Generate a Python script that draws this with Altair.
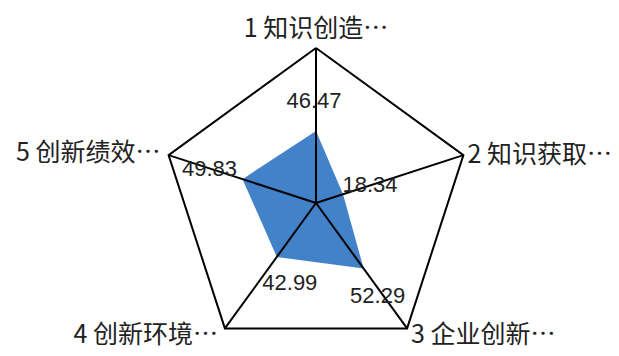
import altair as alt
import pandas as pd

# ---- data ----
categories = ["1 知识创造…", "2 知识获取…", "3 企业创新…", "4 创新环境…", "5 创新绩效…"]
values = [46.47, 18.34, 52.29, 42.99, 49.83]
value_labels = ["46.47", "18.34", "52.29", "42.99", "49.83"]
max_value = 100

n = len(categories)
base = pd.DataFrame({"idx": list(range(n)), "cat": categories,
                     "value": values, "label": value_labels})
closed = pd.concat([base, base.iloc[[0]]], ignore_index=True)
closed["ord"] = list(range(len(closed)))

# ---- layout ----
W, H = 603, 340
CX, CY = 308, 195
R = 155
xs = alt.Scale(domain=[-CX / R, (W - CX) / R], nice=False, zero=False)
ys = alt.Scale(domain=[-(H - CY) / R, CY / R], nice=False, zero=False)
BLUE = "#4282c8"
NUM_FONT = "Liberation Sans"
CJK_FONT = "Noto Sans CJK SC"


def polar(chart, rexpr):
    return (chart
            .transform_calculate(ang=f"PI/2 - datum.idx*2*PI/{n}")
            .transform_calculate(rr=rexpr)
            .transform_calculate(px="datum.rr*cos(datum.ang)",
                                 py="datum.rr*sin(datum.ang)", zero="0"))


X = alt.X("px:Q", scale=xs, axis=None)
Y = alt.Y("py:Q", scale=ys, axis=None)

poly = polar(alt.Chart(closed), f"datum.value/{max_value}").mark_line(
    filled=True, fill=BLUE, strokeOpacity=0
).encode(x=X, y=Y, order=alt.Order("ord:Q"))

outline = polar(alt.Chart(closed), "1").mark_line(
    color="black", strokeWidth=2
).encode(x=X, y=Y, order=alt.Order("ord:Q"))

spokes = polar(alt.Chart(base), "1").mark_rule(
    color="black", strokeWidth=2
).encode(x=alt.X("zero:Q", scale=xs, axis=None), x2="px:Q",
         y=alt.Y("zero:Q", scale=ys, axis=None), y2="py:Q")

value_offsets = [(-2, -30), (27, -9), (14, 27), (13, 26), (-33, -10)]
vtexts = []
for i, (dx, dy) in enumerate(value_offsets):
    vtexts.append(
        polar(alt.Chart(base), f"datum.value/{max_value}")
        .transform_filter(f"datum.idx == {i}")
        .mark_text(font=NUM_FONT, fontSize=22, color="#222222", dx=dx, dy=dy,
                   align="center", baseline="middle")
        .encode(x=X, y=Y, text="label:N")
    )

cat_style = [("center", 0, -19), ("left", 4, 0), ("left", 4, 7),
             ("right", -7, 7), ("right", -8, -2)]
ctexts = []
for i, (al, dx, dy) in enumerate(cat_style):
    ctexts.append(
        polar(alt.Chart(base), "1")
        .transform_filter(f"datum.idx == {i}")
        .mark_text(font=CJK_FONT, fontSize=25, color="#222222", dx=dx, dy=dy,
                   align=al, baseline="middle")
        .encode(x=X, y=Y, text="cat:N")
    )

chart = alt.layer(poly, outline, spokes, *vtexts, *ctexts).properties(
    width=W, height=H, padding=0, autosize=alt.AutoSizeParams(type="none"),
    background="white"
).configure_view(strokeWidth=0)

chart.save("out.html", embed_options={"renderer": "svg", "actions": False})
